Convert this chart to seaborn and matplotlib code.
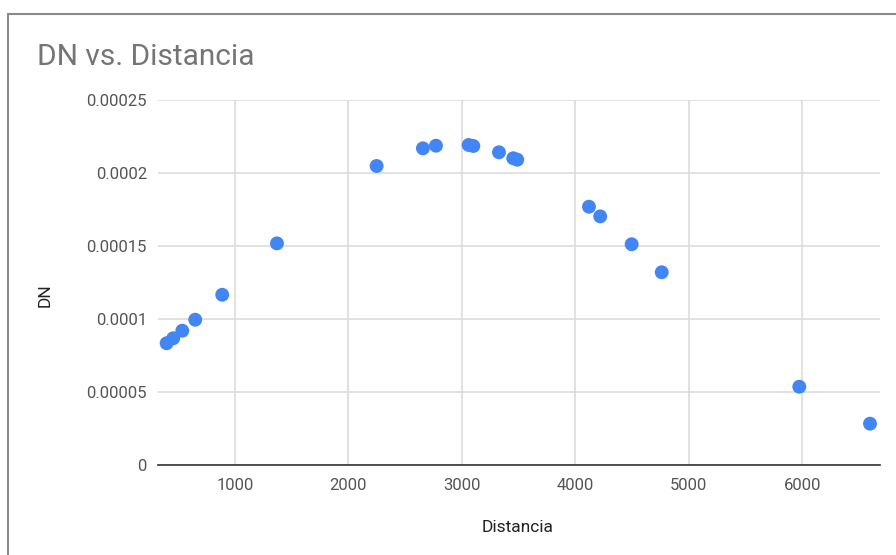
import numpy as np
import pandas as pd
import seaborn as sns
import matplotlib.pyplot as plt
from matplotlib.lines import Line2D

# Data
distancia = [398, 456, 536, 650, 888, 1370, 2248, 2656, 2771, 3059, 3100,
             3326, 3452, 3487, 4119, 4218, 4495, 4760, 5972, 6595]
dn = [0.0000834, 0.0000868, 0.0000920, 0.0000995, 0.0001166, 0.0001518,
      0.0002048, 0.0002169, 0.0002187, 0.0002192, 0.0002185, 0.0002142,
      0.0002101, 0.0002091, 0.0001769, 0.0001703, 0.0001512, 0.0001320,
      0.0000536, 0.0000283]
x_ticks = [1000, 2000, 3000, 4000, 5000, 6000]
y_ticks = [0, 0.00005, 0.0001, 0.00015, 0.0002, 0.00025]
y_tick_labels = ["0", "0.00005", "0.0001", "0.00015", "0.0002", "0.00025"]

df = pd.DataFrame({"Distancia": distancia, "DN": dn})

sns.set_style("whitegrid", {"grid.color": "#e0e0e0", "axes.edgecolor": "#e0e0e0"})
plt.rcParams["font.family"] = ["Roboto", "DejaVu Sans"]

fig = plt.figure(figsize=(8.96, 5.55), dpi=100)
ax = fig.add_axes([158 / 896, 1 - 465 / 555, (880 - 158) / 896, (465 - 100) / 555])

sns.scatterplot(data=df, x="Distancia", y="DN", ax=ax, color="#4285f4",
                s=100, edgecolor="none", zorder=3, clip_on=False)

ax.set_xlim(322, 6683)
ax.set_ylim(0, 0.00025)
ax.set_xticks(x_ticks)
ax.set_xticklabels([str(t) for t in x_ticks])
ax.set_yticks(y_ticks)
ax.set_yticklabels(y_tick_labels)
ax.tick_params(axis="both", colors="#555555", labelsize=12, length=0)
ax.tick_params(axis="x", pad=9)
ax.tick_params(axis="y", pad=8)
ax.grid(True, color="#dcdcdc", linewidth=1.2)

for side in ["left", "right", "top"]:
    ax.spines[side].set_visible(False)
ax.spines["bottom"].set_color("#333333")
ax.spines["bottom"].set_linewidth(1.2)
ax.spines["bottom"].set_zorder(2)

ax.set_xlabel("Distancia", fontsize=12.5, color="#222222")
ax.set_ylabel("DN", fontsize=12.5, color="#222222")
ax.xaxis.set_label_coords((518 - 158) / 722, (465 - 527) / 365)
ax.yaxis.set_label_coords((45 - 158) / 722, (465 - 295) / 365)
ax.xaxis.label.set_va("center")
ax.yaxis.label.set_va("center")

fig.text(37 / 896, 1 - 57 / 555, "DN vs. Distancia", fontsize=21.5,
         color="#757575", va="center", ha="left")

# outer frame of the chart card
fig.add_artist(Line2D([8 / 896, 1], [1 - 14 / 555, 1 - 14 / 555],
                      transform=fig.transFigure, color="#8a8a8a", linewidth=1.5))
fig.add_artist(Line2D([8 / 896, 8 / 896], [0, 1 - 14 / 555],
                      transform=fig.transFigure, color="#8a8a8a", linewidth=1.5))

fig.savefig("out.png", dpi=100)
